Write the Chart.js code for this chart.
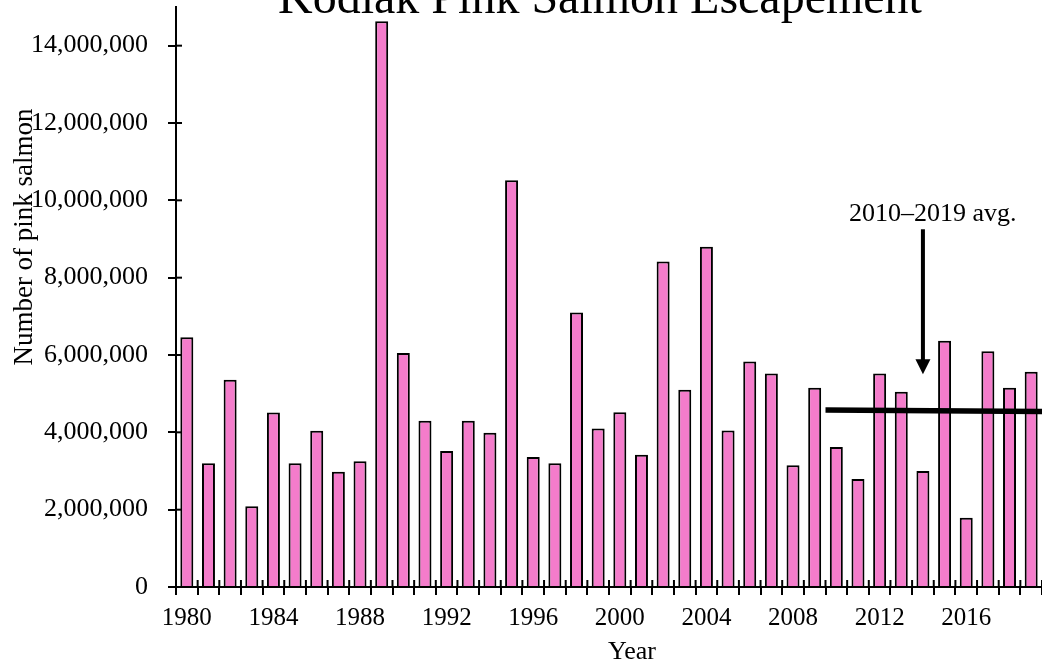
<!DOCTYPE html>
<html>
<head>
<meta charset="utf-8">
<script src="https://cdn.jsdelivr.net/npm/chart.js@4/dist/chart.umd.min.js"></script>
<style>
  body { margin: 0; background: #fff; }
  #wrap { position: relative; width: 1042px; height: 661px; }
</style>
</head>
<body>
<div id="wrap"><canvas id="salmonChart"></canvas></div>
<script>
// escapement by year
const years = [
  "1980", "1981", "1982", "1983", "1984", "1985", "1986", "1987", "1988", "1989",
  "1990", "1991", "1992", "1993", "1994", "1995", "1996", "1997", "1998", "1999",
  "2000", "2001", "2002", "2003", "2004", "2005", "2006", "2007", "2008", "2009",
  "2010", "2011", "2012", "2013", "2014", "2015", "2016", "2017", "2018", "2019",
];

const escapement = [
  6460000, 3200000, 5360000, 2090000, 4510000, 3200000, 4040000, 2980000, 3250000, 14630000,
  6050000, 4300000, 3520000, 4300000, 3990000, 10520000, 3360000, 3200000, 7100000, 4100000,
  4520000, 3420000, 8420000, 5100000, 8800000, 4050000, 5830000, 5520000, 3150000, 5150000,
  3620000, 2790000, 5520000, 5050000, 3000000, 6370000, 1790000, 6100000, 5150000, 5570000,
];

const labeledYears = ["1980", "1984", "1988", "1992", "1996", "2000", "2004", "2008", "2012", "2016"];
const yTickValues = [0, 2000000, 4000000, 6000000, 8000000, 10000000, 12000000, 14000000];

// 2010-2019 average line (start / end values) and the arrow pointing at it
const avgYears = ["2010", "2019"];
const avgValues = [4580000, 4540000];
const arrowYear = "2014";
const arrowValues = [9250000, 5500000];
const arrowText = "2010\u20132019 avg.";

const serif = '"Liberation Serif", "Times New Roman", serif';

const categoryWidth = (xs) => xs.getPixelForValue(1) - xs.getPixelForValue(0);

// draws the tick parts that poke into the plot, plus the avg line and arrow
const overlay = {
  id: "overlay",
  afterDatasetsDraw(chart) {
    const ctx = chart.ctx;
    const xs = chart.scales.x;
    const ys = chart.scales.y;
    const half = categoryWidth(xs) / 2;

    ctx.save();
    ctx.strokeStyle = "#000";
    ctx.lineWidth = 2;
    ys.ticks.forEach((t) => {
      const y = ys.getPixelForValue(t.value);
      ctx.beginPath();
      ctx.moveTo(xs.left, y);
      ctx.lineTo(xs.left + 6, y);
      ctx.stroke();
    });
    for (let i = 0; i <= years.length; i++) {
      const x = xs.getPixelForValue(0) - half + i * half * 2;
      ctx.beginPath();
      ctx.moveTo(x, ys.bottom);
      ctx.lineTo(x, ys.bottom - 7);
      ctx.stroke();
    }

    // average line
    const i0 = years.indexOf(avgYears[0]);
    const i1 = years.indexOf(avgYears[1]);
    ctx.lineWidth = 5.5;
    ctx.beginPath();
    ctx.moveTo(xs.getPixelForValue(i0) - half, ys.getPixelForValue(avgValues[0]));
    ctx.lineTo(xs.getPixelForValue(i1) + half, ys.getPixelForValue(avgValues[1]));
    ctx.stroke();

    // arrow
    const ax = xs.getPixelForValue(years.indexOf(arrowYear));
    const top = ys.getPixelForValue(arrowValues[0]);
    const tip = ys.getPixelForValue(arrowValues[1]);
    ctx.lineWidth = 4;
    ctx.beginPath();
    ctx.moveTo(ax, top);
    ctx.lineTo(ax, tip - 12);
    ctx.stroke();
    ctx.fillStyle = "#000";
    ctx.beginPath();
    ctx.moveTo(ax - 7.5, tip - 15);
    ctx.lineTo(ax + 7.5, tip - 15);
    ctx.lineTo(ax, tip);
    ctx.closePath();
    ctx.fill();

    ctx.font = "26px " + serif;
    ctx.textAlign = "left";
    ctx.textBaseline = "alphabetic";
    ctx.fillText(arrowText, ax - 74, top - 8);
    ctx.restore();
  },
  afterDraw(chart) {
    const ctx = chart.ctx;
    ctx.save();
    ctx.fillStyle = "#000";
    ctx.textBaseline = "alphabetic";
    ctx.textAlign = "center";

    // title, cut off at the top like the original
    ctx.font = "48px " + serif;
    ctx.fillText("Kodiak Pink Salmon Escapement", 600, 13);

    ctx.font = "26px " + serif;
    ctx.fillText("Year", 632, 659);

    ctx.font = "27px " + serif;
    ctx.translate(32, 237);
    ctx.rotate(-Math.PI / 2);
    ctx.fillText("Number of pink salmon", 0, 0);
    ctx.restore();
  },
};

const renderChart = () => {
  const canvas = document.getElementById("salmonChart");

  new Chart(canvas, {
    type: "bar",
    data: {
      labels: years,
      datasets: [
        {
          label: "Escapement",
          data: escapement,
          backgroundColor: "#f47ccb",
          borderColor: "#000",
          borderWidth: 2,
          categoryPercentage: 1,
          barPercentage: 0.6,
        },
      ],
    },
    options: {
      responsive: true,
      maintainAspectRatio: false,
      animation: false,
      layout: { padding: { top: 7, left: 0, right: 0, bottom: 0 } },
      plugins: {
        legend: { display: false },
        tooltip: { enabled: false },
      },
      scales: {
        x: {
          offset: true,
          grid: {
            offset: true,
            drawOnChartArea: false,
            color: "#000",
            lineWidth: 2,
            tickLength: 8,
          },
          border: { color: "#000", width: 2 },
          ticks: {
            autoSkip: false,
            maxRotation: 0,
            minRotation: 0,
            padding: 8,
            color: "#000",
            font: { family: serif, size: 25 },
            callback: (value, index) => (labeledYears.includes(years[index]) ? years[index] : ""),
          },
          afterFit: (scale) => {
            scale.height = 74;
            scale.paddingLeft = 0;
            scale.paddingRight = 0;
          },
        },
        y: {
          min: 0,
          max: 15000000,
          grid: {
            drawOnChartArea: false,
            color: "#000",
            lineWidth: 2,
            tickLength: 8,
          },
          border: { color: "#000", width: 2 },
          ticks: {
            padding: 20,
            color: "#000",
            font: { family: serif, size: 26 },
            callback: (value) => value.toLocaleString("en-US"),
          },
          afterBuildTicks: (scale) => {
            scale.ticks = yTickValues.map((v) => ({ value: v }));
          },
          afterFit: (scale) => {
            scale.width = 176;
            scale.paddingTop = 0;
            scale.paddingBottom = 0;
          },
        },
      },
    },
    plugins: [overlay],
  });
};

renderChart();
</script>
</body>
</html>
